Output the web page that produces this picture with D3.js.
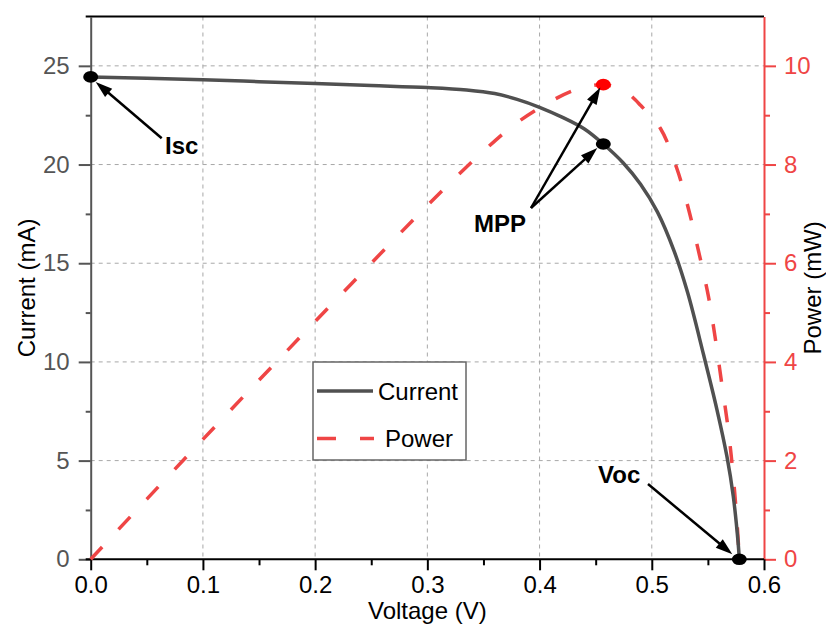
<!DOCTYPE html>
<html>
<head>
<meta charset="utf-8">
<script src="https://cdn.jsdelivr.net/npm/d3@7"></script>
<style>
html,body{margin:0;padding:0;background:#fff;overflow:hidden;}
svg{display:block;font-family:"Liberation Sans",Arial,sans-serif;}
</style>
</head>
<body>
<svg id="chart" width="826" height="626"></svg>
<script>
// ---- data ----
const voltageI = [0, 0.05, 0.1, 0.15, 0.2, 0.25, 0.3, 0.335, 0.36, 0.38, 0.40, 0.42, 0.44, 0.4568, 0.4746, 0.49, 0.505, 0.52, 0.532, 0.546, 0.558, 0.567, 0.5726, 0.577, 0.578];
const current  = [24.44, 24.37, 24.30, 24.2, 24.10, 24.0, 23.9, 23.78, 23.6, 23.3, 22.9, 22.4, 21.8, 21.04, 20.08, 19.0, 17.6, 15.6, 13.5, 10.4, 7.6, 5.2, 3.2, 0.8, 0];
const voltageP = [0, 0.05, 0.1, 0.15, 0.2, 0.25, 0.3, 0.35, 0.38, 0.41, 0.43, 0.445, 0.4568, 0.47, 0.48, 0.49, 0.5075, 0.5222, 0.5325, 0.5414, 0.5503, 0.5563, 0.5623, 0.5682, 0.5726, 0.576, 0.578];
const power    = [0, 1.22, 2.43, 3.63, 4.82, 6.0, 7.17, 8.27, 8.85, 9.28, 9.5, 9.59, 9.62, 9.55, 9.42, 9.2, 8.74, 7.93, 7.12, 6.27, 5.35, 4.52, 3.57, 2.62, 1.68, 0.73, 0];
const xTicks = [0, 0.1, 0.2, 0.3, 0.4, 0.5, 0.6];
const xMinor = [0.05, 0.15, 0.25, 0.35, 0.45, 0.55];
const yITicks = [0, 5, 10, 15, 20, 25];
const yIMinor = [2.5, 7.5, 12.5, 17.5, 22.5];
const yPTicks = [0, 2, 4, 6, 8, 10];
const yPMinor = [1, 3, 5, 7, 9];
const seriesNames = ["Current", "Power"];
const iscPoint = {v: 0, i: 24.44};
const mppPoint = {v: 0.4568, i: 21.04, p: 9.62};
const vocPoint = {v: 0.578, i: 0};

// ---- layout ----
const L = 90.7, R = 764, T = 16.5, B = 559.3;
const grey = "#555555", red = "#ef4545", curCol = "#505050";

const svg = d3.select("#chart");
const x = d3.scaleLinear().domain([0, 0.6]).range([L, R]);
const yI = d3.scaleLinear().domain([0, 27.5]).range([B, T]);
const yP = d3.scaleLinear().domain([0, 11]).range([B, T]);

// grid
const grid = svg.append("g").attr("stroke", "#a8a8a8").attr("stroke-width", 1).attr("stroke-dasharray", "4,4");
grid.selectAll("line.v").data(xTicks.filter(d => d > 0 && d < 0.6)).join("line")
  .attr("x1", d => x(d)).attr("x2", d => x(d)).attr("y1", T).attr("y2", B);
grid.selectAll("line.h").data(yITicks.filter(d => d > 0)).join("line")
  .attr("x1", L).attr("x2", R).attr("y1", d => yI(d)).attr("y2", d => yI(d));

// top border
svg.append("line").attr("x1", L - 5).attr("x2", R).attr("y1", T).attr("y2", T)
  .attr("stroke", "#000").attr("stroke-width", 2);

function styleAxis(g, col, size) {
  g.select(".domain").attr("stroke", col).attr("stroke-width", 2);
  g.selectAll(".tick line").attr("stroke", col).attr("stroke-width", 2);
  g.selectAll(".tick text").attr("fill", col).attr("font-size", size)
    .attr("font-family", '"Liberation Sans",Arial,sans-serif');
}

// left axis
const gL = svg.append("g").attr("transform", `translate(${L},0)`)
  .call(d3.axisLeft(yI).tickValues(yITicks).tickSize(12).tickSizeOuter(0).tickPadding(9).tickFormat(d3.format("d")));
styleAxis(gL, grey, 24);
const gLm = svg.append("g").attr("transform", `translate(${L},0)`)
  .call(d3.axisLeft(yI).tickValues(yIMinor).tickSize(5).tickFormat(""));
gLm.select(".domain").remove();
gLm.selectAll(".tick line").attr("stroke", grey).attr("stroke-width", 2);

// right axis
const gR = svg.append("g").attr("transform", `translate(${R},0)`)
  .call(d3.axisRight(yP).tickValues(yPTicks).tickSize(12).tickSizeOuter(0).tickPadding(8).tickFormat(d3.format("d")));
styleAxis(gR, red, 24);
const gRm = svg.append("g").attr("transform", `translate(${R},0)`)
  .call(d3.axisRight(yP).tickValues(yPMinor).tickSize(6).tickFormat(""));
gRm.select(".domain").remove();
gRm.selectAll(".tick line").attr("stroke", red).attr("stroke-width", 2);

// bottom axis
const gB = svg.append("g").attr("transform", `translate(0,${B})`)
  .call(d3.axisBottom(x).tickValues(xTicks).tickSize(11).tickSizeOuter(0).tickPadding(6).tickFormat(d3.format(".1f")));
styleAxis(gB, "#000", 24);
gB.select(".domain").attr("d", `M${L - 5},0H${R}`);
const gBm = svg.append("g").attr("transform", `translate(0,${B})`)
  .call(d3.axisBottom(x).tickValues(xMinor).tickSize(6).tickFormat(""));
gBm.select(".domain").remove();
gBm.selectAll(".tick line").attr("stroke", "#000").attr("stroke-width", 2);

// axis titles
svg.append("text").attr("transform", `translate(35,${(T + B) / 2}) rotate(-90)`)
  .attr("text-anchor", "middle").attr("font-size", 24).attr("fill", "#000").text("Current (mA)");
svg.append("text").attr("transform", `translate(821,${(T + B) / 2}) rotate(-90)`)
  .attr("text-anchor", "middle").attr("font-size", 24).attr("fill", "#000").text("Power (mW)");
svg.append("text").attr("x", (L + R) / 2).attr("y", 619)
  .attr("text-anchor", "middle").attr("font-size", 24).attr("fill", "#000").text("Voltage (V)");

// lines
const curData = voltageI.map((v, k) => [v, current[k]]);
const powData = voltageP.map((v, k) => [v, power[k]]);
const lineI = d3.line().x(d => x(d[0])).y(d => yI(d[1])).curve(d3.curveCatmullRom.alpha(0.5));
const lineP = d3.line().x(d => x(d[0])).y(d => yP(d[1])).curve(d3.curveCatmullRom.alpha(0.5));
svg.append("path").datum(powData).attr("d", lineP).attr("fill", "none")
  .attr("stroke", red).attr("stroke-width", 3.5).attr("stroke-dasharray", "17,24");
svg.append("path").datum(curData).attr("d", lineI).attr("fill", "none")
  .attr("stroke", curCol).attr("stroke-width", 3.5);

// arrows
function arrow(x1, y1, x2, y2) {
  const g = svg.append("g");
  const ang = Math.atan2(y2 - y1, x2 - x1);
  const hl = 17, hw = 5.5;
  const bx = x2 - hl * Math.cos(ang), by = y2 - hl * Math.sin(ang);
  g.append("line").attr("x1", x1).attr("y1", y1).attr("x2", bx + 3 * Math.cos(ang)).attr("y2", by + 3 * Math.sin(ang))
    .attr("stroke", "#000").attr("stroke-width", 2.5);
  const px = -Math.sin(ang), py = Math.cos(ang);
  g.append("path").attr("d", `M${x2},${y2}L${bx + hw * px},${by + hw * py}L${bx - hw * px},${by - hw * py}Z`)
    .attr("fill", "#000");
}

// points
function dot(cx, cy, col) {
  svg.append("ellipse").attr("cx", cx).attr("cy", cy).attr("rx", 7.5).attr("ry", 5.8).attr("fill", col);
}
dot(x(iscPoint.v), yI(iscPoint.i), "#000");
dot(x(mppPoint.v), yI(mppPoint.i), "#000");
dot(x(mppPoint.v), yP(mppPoint.p), "#ff0000");
dot(x(vocPoint.v), yI(vocPoint.i), "#000");

arrow(161.7, 138.3, x(iscPoint.v) + 5, yI(iscPoint.i) + 5);
arrow(531, 208, x(mppPoint.v) - 3, yP(mppPoint.p) + 3);
arrow(531, 208, x(mppPoint.v) - 6, yI(mppPoint.i) + 4);
arrow(648, 484, x(vocPoint.v) - 7, yI(vocPoint.i) - 5);

const lab = svg.append("g").attr("font-size", 24).attr("font-weight", "bold").attr("fill", "#000");
lab.append("text").attr("x", 165).attr("y", 154).text("Isc");
lab.append("text").attr("x", 474).attr("y", 232).text("MPP");
lab.append("text").attr("x", 598).attr("y", 483).text("Voc");

// legend
const lg = svg.append("g");
lg.append("rect").attr("x", 313).attr("y", 362).attr("width", 153).attr("height", 98)
  .attr("fill", "#fff").attr("stroke", "#666").attr("stroke-width", 1.5);
lg.append("line").attr("x1", 317).attr("x2", 373).attr("y1", 391).attr("y2", 391)
  .attr("stroke", curCol).attr("stroke-width", 3.5);
lg.append("line").attr("x1", 317).attr("x2", 374).attr("y1", 438.5).attr("y2", 438.5)
  .attr("stroke", red).attr("stroke-width", 3.5).attr("stroke-dasharray", "19,24");
lg.append("text").attr("x", 378).attr("y", 400).attr("font-size", 24).attr("fill", "#000").text(seriesNames[0]);
lg.append("text").attr("x", 385).attr("y", 447).attr("font-size", 24).attr("fill", "#000").text(seriesNames[1]);
</script>
</body>
</html>
